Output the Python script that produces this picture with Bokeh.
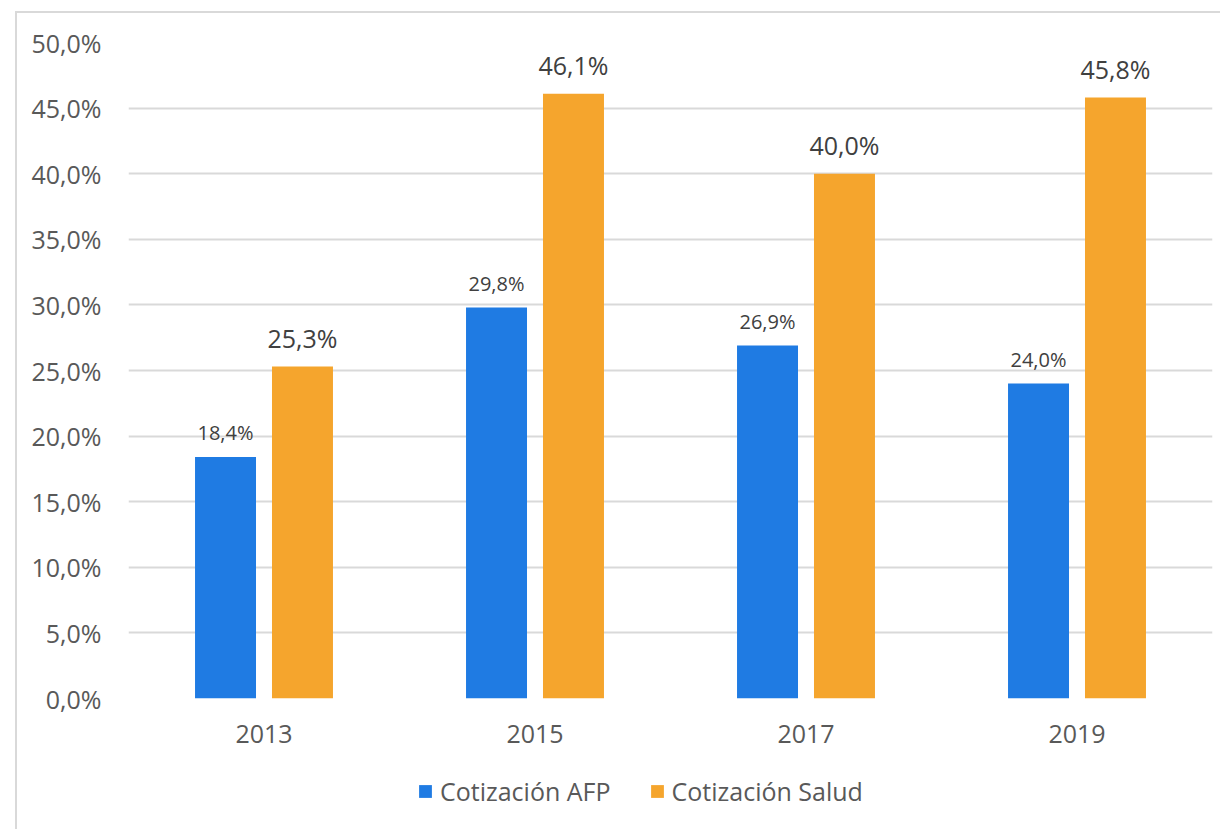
from bokeh.plotting import figure
from bokeh.layouts import column
from bokeh.models import FactorRange, Range1d, Legend, LegendItem, CustomJSTickFormatter, LabelSet, ColumnDataSource, FixedTicker
from bokeh.transform import dodge
from bokeh.core.properties import value
from bokeh.embed import file_html
from bokeh.resources import INLINE

years = ["2013", "2015", "2017", "2019"]
afp = [18.4, 29.8, 26.9, 24.0]
salud = [25.3, 46.1, 40.0, 45.8]
series_names = ["Cotización AFP", "Cotización Salud"]
y_ticks = [0, 5, 10, 15, 20, 25, 30, 35, 40, 45, 50]

BLUE = "#1f7be3"
ORANGE = "#f5a52d"
FONT = "Open Sans"

def fmt(v):
    return ("%.1f%%" % v).replace(".", ",")

src = ColumnDataSource(dict(
    years=years, afp=afp, salud=salud,
    afp_lbl=[fmt(v) for v in afp], salud_lbl=[fmt(v) for v in salud],
))

p = figure(x_range=FactorRange(factors=years, range_padding=0), y_range=Range1d(0, 50),
           width=1203, height=747, output_backend="svg", toolbar_location=None,
           min_border_left=111, min_border_right=8, min_border_top=29, min_border_bottom=62)
p.outline_line_color = None
p.background_fill_color = "white"
p.border_fill_color = "white"

r1 = p.vbar(x=dodge("years", -0.142, range=p.x_range), top="afp", width=0.225, source=src,
            fill_color=BLUE, line_color=None)
r2 = p.vbar(x=dodge("years", 0.142, range=p.x_range), top="salud", width=0.225, source=src,
            fill_color=ORANGE, line_color=None)

l1 = LabelSet(x=dodge("years", -0.142, range=p.x_range), y="afp", text="afp_lbl", source=src,
              text_align="center", text_baseline="alphabetic", y_offset=17,
              text_font=value(FONT), text_font_size="20px", text_color="#404040")
l2 = LabelSet(x=dodge("years", 0.142, range=p.x_range), y="salud", text="salud_lbl", source=src,
              text_align="center", text_baseline="alphabetic", y_offset=19,
              text_font=value(FONT), text_font_size="25px", text_color="#404040")
p.add_layout(l1)
p.add_layout(l2)

p.yaxis.ticker = FixedTicker(ticks=y_ticks)
p.yaxis.formatter = CustomJSTickFormatter(code="return tick.toFixed(1).replace('.', ',') + '%';")
for ax in (p.xaxis[0], p.yaxis[0]):
    ax.axis_line_color = None
    ax.major_tick_line_color = None
    ax.minor_tick_line_color = None
    ax.major_label_text_font = FONT
    ax.major_label_text_font_size = "25px"
    ax.major_label_text_color = "#595959"
p.xaxis.major_label_standoff = 20
p.yaxis.major_label_standoff = 21

p.xgrid.grid_line_color = None
p.ygrid.grid_line_color = "#d9d9d9"
p.ygrid.grid_line_width = 2

# legend strip below the chart (a separate plot so the legend is not clipped)
lf = figure(x_range=Range1d(0, 1), y_range=Range1d(0, 1), width=1203, height=69,
            output_backend="svg", toolbar_location=None,
            min_border_left=0, min_border_right=0, min_border_top=0, min_border_bottom=0)
lf.axis.visible = False
lf.grid.visible = False
lf.outline_line_color = None
lf.background_fill_color = "white"
lf.border_fill_color = "white"
# zero-size legend key proxies (nothing visible is drawn by them)
k1 = lf.vbar(x=[0], bottom=[0], top=[0], width=0, fill_color=BLUE, line_color=None)
k2 = lf.vbar(x=[0], bottom=[0], top=[0], width=0, fill_color=ORANGE, line_color=None)

legend = Legend(items=[LegendItem(label=series_names[0], renderers=[k1]),
                       LegendItem(label=series_names[1], renderers=[k2])],
                orientation="horizontal", location=(289, 21),
                label_text_font=FONT, label_text_font_size="25px", label_text_color="#595959",
                glyph_width=16, glyph_height=16, label_standoff=7, spacing=38,
                padding=0, margin=0, border_line_color=None, background_fill_alpha=0)
lf.add_layout(legend)

layout = column(p, lf, spacing=0)
layout.styles = {"border-left": "2px solid #d9d9d9", "border-top": "2px solid #d9d9d9",
                 "margin-left": "15px", "margin-top": "11px"}

open("out.html", "w").write(file_html(layout, INLINE))
